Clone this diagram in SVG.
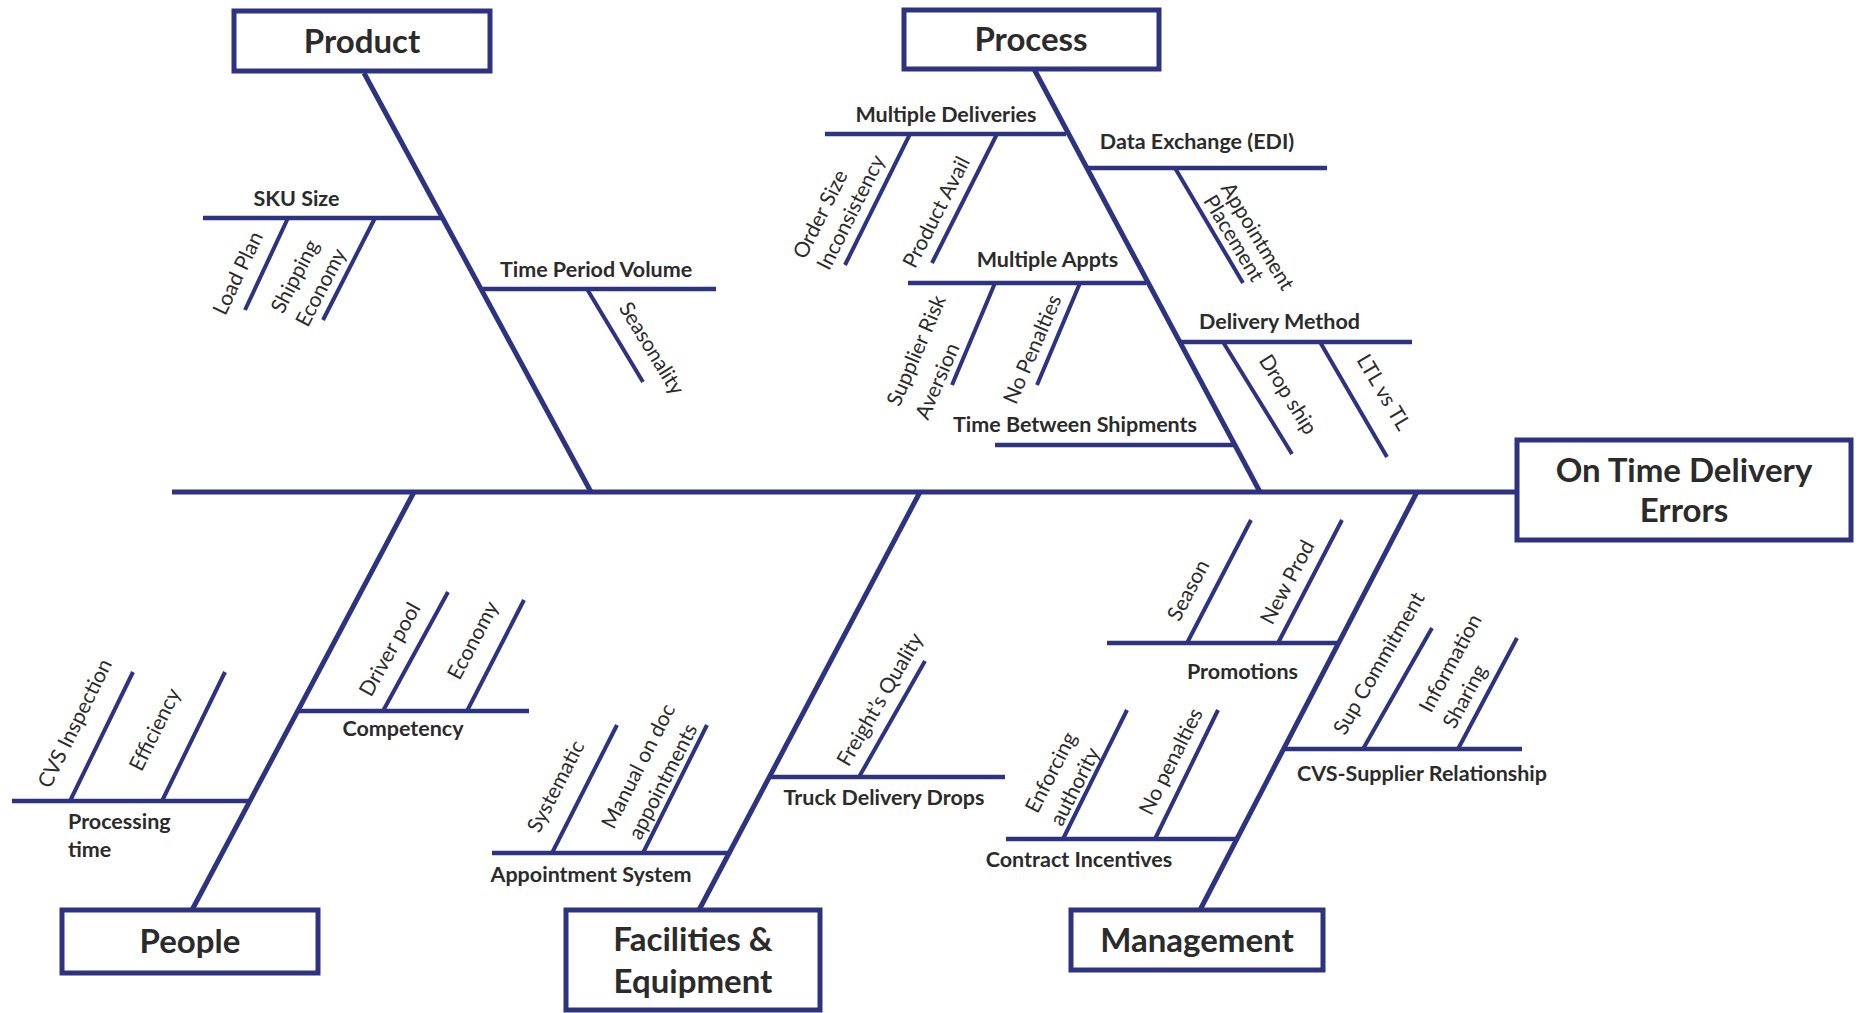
<svg xmlns="http://www.w3.org/2000/svg" width="1860" height="1013" viewBox="0 0 1860 1013">
  <style>
    .bg { fill: #ffffff; }
    .box { fill: #ffffff; stroke: #2e3380; stroke-width: 5; }
    .spine { stroke: #2e3380; stroke-width: 5; fill: none; }
    .cause { stroke: #2e3380; stroke-width: 4.5; fill: none; }
    .sub { stroke: #2e3380; stroke-width: 4; fill: none; }
    text { font-family: Lato, "Open Sans", "Liberation Sans", sans-serif; fill: #2b2b2b; }
    .title { font-size: 33px; font-weight: 700; text-anchor: middle; }
    .lbl { font-size: 21.5px; font-weight: 700; text-anchor: middle; }
    .lbl-left { font-size: 21.5px; font-weight: 700; text-anchor: start; }
    .rot { font-size: 21px; font-weight: 400; text-anchor: middle; }
  </style>

  <rect class="bg" x="0" y="0" width="1860" height="1013"/>

  <!-- spine, category bones, cause bones and sub-cause ticks -->
  <g id="connectors">
    <path class="spine" d="M172 492 H1517"/>
    <path class="spine" d="M364 73 L591 492"/>
    <path class="spine" d="M1034 69 L1260 492"/>
    <path class="spine" d="M414 492 L192 910"/>
    <path class="spine" d="M920 492 L699 910"/>
    <path class="spine" d="M1417 492 L1200 910"/>

    <path class="cause" d="M203 218 H442"/>
    <path class="cause" d="M483 289 H716"/>
    <path class="cause" d="M825 134 H1066"/>
    <path class="cause" d="M1088 168 H1327"/>
    <path class="cause" d="M908 283 H1146"/>
    <path class="cause" d="M1180 342 H1412"/>
    <path class="cause" d="M995 445 H1234"/>
    <path class="cause" d="M298 711 H529"/>
    <path class="cause" d="M12 801 H250"/>
    <path class="cause" d="M769 777 H1005"/>
    <path class="cause" d="M492 853 H729"/>
    <path class="cause" d="M1107 643 H1339"/>
    <path class="cause" d="M1284 749 H1522"/>
    <path class="cause" d="M1006 839 H1237"/>

    <path class="sub" d="M288 218 L245 310"/>
    <path class="sub" d="M375 218 L323 320"/>
    <path class="sub" d="M587 289 L643 382"/>
    <path class="sub" d="M910 134 L845 265"/>
    <path class="sub" d="M997 134 L932 263"/>
    <path class="sub" d="M1175 168 L1243 283"/>
    <path class="sub" d="M995 283 L952 385"/>
    <path class="sub" d="M1080 283 L1037 385"/>
    <path class="sub" d="M1223 342 L1292 454"/>
    <path class="sub" d="M1320 342 L1387 457"/>
    <path class="sub" d="M70 801 L133 672"/>
    <path class="sub" d="M162 801 L225 672"/>
    <path class="sub" d="M383 711 L448 592"/>
    <path class="sub" d="M467 711 L524 600"/>
    <path class="sub" d="M859 777 L925 661"/>
    <path class="sub" d="M552 853 L617 725"/>
    <path class="sub" d="M643 853 L707 725"/>
    <path class="sub" d="M1187 643 L1251 520"/>
    <path class="sub" d="M1278 643 L1342 520"/>
    <path class="sub" d="M1363 749 L1432 628"/>
    <path class="sub" d="M1458 749 L1517 638"/>
    <path class="sub" d="M1063 839 L1127 710"/>
    <path class="sub" d="M1155 839 L1218 710"/>
  </g>

  <!-- effect -->
  <g id="node-effect">
    <rect class="box" x="1517" y="440" width="334" height="100"/>
    <text class="title" x="1684" y="482">On Time Delivery</text>
    <text class="title" x="1684" y="522">Errors</text>
  </g>

  <!-- category boxes -->
  <g id="node-product">
    <rect class="box" x="234" y="11" width="256" height="60"/>
    <text class="title" x="362" y="53">Product</text>
  </g>
  <g id="node-process">
    <rect class="box" x="904" y="10" width="255" height="59"/>
    <text class="title" x="1031" y="51">Process</text>
  </g>
  <g id="node-people">
    <rect class="box" x="62" y="910" width="256" height="63"/>
    <text class="title" x="190" y="953">People</text>
  </g>
  <g id="node-facilities">
    <rect class="box" x="566" y="910" width="254" height="100"/>
    <text class="title" x="693" y="951">Facilities &amp;</text>
    <text class="title" x="693" y="993">Equipment</text>
  </g>
  <g id="node-management">
    <rect class="box" x="1071" y="910" width="252" height="60"/>
    <text class="title" x="1197" y="952">Management</text>
  </g>

  <!-- Product causes -->
  <g id="causes-product">
    <text class="lbl" x="296.5" y="206">SKU Size</text>
    <text class="lbl" x="596" y="277">Time Period Volume</text>
    <text class="rot" transform="translate(237.5 273) rotate(-64.5)" dy="0.36em">Load Plan</text>
    <text class="rot" transform="translate(296 277) rotate(-62.5)" dy="0.28em">Shipping</text>
    <text class="rot" transform="translate(322 288) rotate(-62.5)" dy="0.28em">Economy</text>
    <text class="rot" transform="translate(650.5 349) rotate(58.4)" dy="0.28em">Seasonality</text>
  </g>

  <!-- Process causes -->
  <g id="causes-process">
    <text class="lbl" x="946" y="122">Multiple Deliveries</text>
    <text class="lbl" x="1197" y="149">Data Exchange (EDI)</text>
    <text class="lbl" x="1047.5" y="267">Multiple Appts</text>
    <text class="lbl" x="1279.5" y="329">Delivery Method</text>
    <text class="lbl" x="1075" y="432">Time Between Shipments</text>
    <text class="rot" transform="translate(820 214) rotate(-63.3)" dy="0.36em">Order Size</text>
    <text class="rot" transform="translate(852 213) rotate(-63.3)" dy="0.28em">Inconsistency</text>
    <text class="rot" transform="translate(936 212) rotate(-62.9)" dy="0.36em">Product Avail</text>
    <text class="rot" transform="translate(1256.5 237) rotate(59)" dy="0.28em">Appointment</text>
    <text class="rot" transform="translate(1234 238) rotate(59)" dy="0.36em">Placement</text>
    <text class="rot" transform="translate(917.5 351) rotate(-66.7)" dy="0.28em">Supplier Risk</text>
    <text class="rot" transform="translate(937 381) rotate(-66.7)" dy="0.36em">Aversion</text>
    <text class="rot" transform="translate(1032 349) rotate(-66.7)" dy="0.36em">No Penalties</text>
    <text class="rot" transform="translate(1287 395) rotate(57.9)" dy="0.28em">Drop ship</text>
    <text class="rot" transform="translate(1384 392) rotate(59.3)" dy="0.36em">LTL vs TL</text>
  </g>

  <!-- People causes -->
  <g id="causes-people">
    <text class="lbl" x="403" y="736">Competency</text>
    <text class="lbl-left" x="68" y="829">Processing</text>
    <text class="lbl-left" x="68" y="857">time</text>
    <text class="rot" transform="translate(76 724) rotate(-63.6)" dy="0.28em">CVS Inspection</text>
    <text class="rot" transform="translate(156 730) rotate(-63.6)" dy="0.28em">Efficiency</text>
    <text class="rot" transform="translate(391 650) rotate(-60.9)" dy="0.28em">Driver pool</text>
    <text class="rot" transform="translate(474 641) rotate(-62.2)" dy="0.28em">Economy</text>
  </g>

  <!-- Facilities & Equipment causes -->
  <g id="causes-facilities">
    <text class="lbl" x="884" y="805">Truck Delivery Drops</text>
    <text class="lbl" x="591" y="882">Appointment System</text>
    <text class="rot" transform="translate(881 700) rotate(-59.9)" dy="0.28em">Freight’s Quality</text>
    <text class="rot" transform="translate(557 787) rotate(-62.7)" dy="0.28em">Systematic</text>
    <text class="rot" transform="translate(638 766) rotate(-63)" dy="0.36em">Manual on doc</text>
    <text class="rot" transform="translate(664 782) rotate(-63)" dy="0.28em">appointments</text>
  </g>

  <!-- Management causes -->
  <g id="causes-management">
    <text class="lbl" x="1242.5" y="679">Promotions</text>
    <text class="lbl" x="1422" y="781">CVS-Supplier Relationship</text>
    <text class="lbl" x="1079" y="867">Contract Incentives</text>
    <text class="rot" transform="translate(1188 590) rotate(-62.1)" dy="0.36em">Season</text>
    <text class="rot" transform="translate(1287 582) rotate(-62.1)" dy="0.36em">New Prod</text>
    <text class="rot" transform="translate(1380 664) rotate(-59.9)" dy="0.28em">Sup Commitment</text>
    <text class="rot" transform="translate(1450 663) rotate(-61.6)" dy="0.36em">Information</text>
    <text class="rot" transform="translate(1466 697) rotate(-61.6)" dy="0.28em">Sharing</text>
    <text class="rot" transform="translate(1052 773) rotate(-62.9)" dy="0.28em">Enforcing</text>
    <text class="rot" transform="translate(1076 787) rotate(-62.9)" dy="0.28em">authority</text>
    <text class="rot" transform="translate(1172 762) rotate(-63.3)" dy="0.28em">No penalties</text>
  </g>
</svg>
